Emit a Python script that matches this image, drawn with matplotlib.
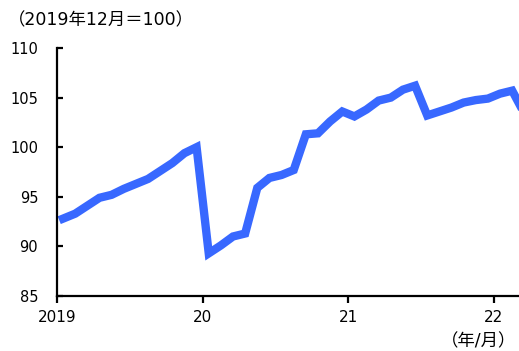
import matplotlib.pyplot as plt
import numpy as np

plt.rcParams['font.family'] = ['DejaVu Sans', 'Noto Sans CJK JP']

# 2019年1月〜2022年3月（月次）
values = [
    92.8, 93.3, 94.1, 94.9, 95.2, 95.8, 96.3, 96.8, 97.6, 98.4, 99.4, 100.0,
    89.3, 90.1, 91.0, 91.3, 95.9, 96.9, 97.2, 97.7, 101.3, 101.4, 102.6, 103.6,
    103.1, 103.8, 104.7, 105.0, 105.8, 106.2, 103.2, 103.6, 104.0, 104.5, 104.75, 104.9,
    105.4, 105.7, 103.4,
]
tick_pos = [0, 12, 24, 36]
tick_labels = ['2019', '20', '21', '22']
y_ticks = [85, 90, 95, 100, 105, 110]

months = np.arange(len(values)) + 0.5

fig = plt.figure(figsize=(5.19, 3.51), dpi=100)
ax = fig.add_axes([57 / 519, 55 / 351, 1 - 57 / 519, 248 / 351])

ax.plot(months, values, color='#3868ff', linewidth=6, solid_joinstyle='miter')

ax.set_xlim(0, 38.06)
ax.set_ylim(85, 110)
ax.set_xticks(tick_pos)
ax.set_xticklabels(tick_labels)
ax.set_yticks(y_ticks)

for s in ['top', 'right']:
    ax.spines[s].set_visible(False)
for s in ['left', 'bottom']:
    ax.spines[s].set_linewidth(1.6)

ax.tick_params(axis='y', direction='in', length=4, width=1.6, pad=13.5, labelsize=10.5)
ax.tick_params(axis='x', direction='out', length=5, width=1.6, pad=5, labelsize=11)

fig.text(8 / 519, 1 - 20 / 351, '（2019年12月＝100）', fontsize=12.5, va='center', ha='left')
fig.text(516 / 519, 1 - 341 / 351, '（年/月）', fontsize=12.5, va='center', ha='right')

fig.savefig('out.png', dpi=100)
